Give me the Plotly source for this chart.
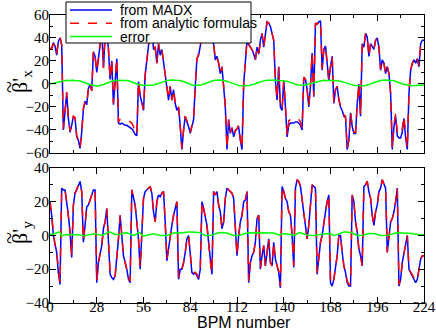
import plotly.graph_objects as go
from plotly.subplots import make_subplots

bpm = list(range(0, 225))

# beta_x' from MADX / analytic formulas / error
betax_madx = [30,31,36,33,25,37,40,34,-40,-20,
    -8,-30,-42,-36,-28,-30,-46,-49,-56,-42,
    -22,-15,-18,-4,0,-6,28,24,10,22,
    36,46,14,42,46,30,4,20,-18,6,
    22,-34,-35,-34,-35,-36,-36,-37,-38,-39,
    -41,-44,-45,2,-10,-16,-23,8,22,30,
    46,48,30,32,18,35,25,30,19,6,
    -5,-14,-2,-14,-5,-17,-23,-20,-37,-57,
    -40,-28,-33,-37,-43,-37,-31,-2,22,25,
    35,41,38,42,36,40,38,36,35,21,
    24,18,9,15,0,-20,-57,-31,-43,-38,
    -46,-41,-39,-37,-49,-57,0,24,38,34,
    32,30,26,21,32,26,38,44,32,41,
    54,53,50,44,38,3,-14,15,-20,-23,
    3,-20,-46,-36,-34,-34,-34,-33,-33,-34,
    -36,-40,6,4,-5,-20,-2,27,-11,53,
    52,54,55,12,30,33,18,3,15,24,
    -17,-5,-2,-14,-20,-23,-28,-29,-57,-49,
    -25,-37,-43,-43,-17,0,-28,35,32,44,
    41,24,35,32,30,38,40,32,12,21,
    18,9,15,9,-8,-57,-37,-28,-45,-47,
    -47,-42,-30,-47,-57,-8,12,18,21,18,
    22,15,35,38,38]
betax_analytic = [31,31,35,33,26,37,41,34,-39,-20,
    -7,-30,-41,-36,-28,-29,-45,-49,-55,-42,
    -21,-15,-17,-4,1,-6,29,24,11,22,
    37,46,14,42,46,31,4,21,-17,6,
    22,-33,-31,-31,-31,-32,-32,-32,-33,-34,
    -37,-42,-44,2,-9,-16,-22,8,22,31,
    46,48,31,32,18,35,26,30,19,6,
    -4,-13,-2,-14,-5,-16,-22,-20,-36,-56,
    -40,-28,-32,-36,-42,-37,-30,-2,22,26,
    35,41,38,42,37,40,38,36,35,22,
    24,18,9,15,1,-19,-56,-31,-42,-38,
    -45,-40,-39,-36,-48,-56,1,24,38,35,
    32,30,27,21,32,27,38,44,32,41,
    54,53,50,44,38,3,-13,15,-20,-22,
    3,-19,-45,-32,-31,-30,-30,-30,-30,-31,
    -33,-38,6,4,-5,-19,-2,27,-10,53,
    52,54,55,13,30,33,18,3,15,24,
    -16,-5,-2,-13,-19,-22,-27,-28,-56,-48,
    -25,-36,-42,-42,-17,0,-27,35,32,44,
    41,24,35,32,30,38,40,32,13,21,
    18,9,15,9,-8,-56,-36,-26,-42,-44,
    -44,-39,-28,-44,-56,-7,12,18,21,18,
    22,16,35,38,38]
betax_error = [0,0.3,0.6,1.0,1.4,1.8,2.2,2.6,2.8,3.0,
    3.2,3.0,3.3,3.1,3.3,3.0,3.1,2.8,2.6,2.2,
    1.8,1.2,0.6,0.0,-0.6,-1.0,-1.4,-1.6,-1.7,-1.6,
    -1.4,-1.0,-0.4,0.2,0.8,1.4,2.0,2.4,2.8,3.0,
    3.2,3.0,3.3,3.1,3.2,3.0,3.1,2.8,2.4,1.8,
    1.2,0.6,0.0,-0.5,-0.9,-1.2,-1.3,-1.2,-1.3,-1.1,
    -1.2,-1.0,-0.8,-0.6,-0.2,0.4,1.0,1.6,2.2,2.6,
    3.0,3.2,3.4,3.2,3.5,3.3,3.4,3.2,3.0,2.6,
    2.0,1.4,0.6,0.0,-0.6,-1.0,-1.3,-1.4,-1.2,-1.4,
    -1.0,-0.6,0.0,0.6,1.2,1.8,2.4,2.8,3.0,3.2,
    3.4,3.2,3.4,3.3,3.1,2.8,2.4,1.8,1.2,0.6,
    0.0,-0.5,-1.0,-1.3,-1.5,-1.6,-1.5,-1.6,-1.5,-1.4,
    -1.1,-0.8,-0.4,0.2,0.8,1.4,2.0,2.5,2.9,3.1,
    3.3,3.1,3.4,3.2,3.4,3.3,3.2,3.1,3.0,3.2,
    3.0,2.8,2.4,1.8,1.2,0.6,0.2,-0.2,-0.6,-0.8,
    -1.0,-0.9,-1.0,-0.8,-0.6,-0.3,0.2,0.6,1.0,1.4,
    1.8,2.2,2.6,3.0,3.2,3.0,3.3,3.1,3.2,3.0,
    3.2,2.9,3.1,2.8,2.6,2.2,1.8,1.2,0.6,0.0,
    -0.4,-0.8,-1.2,-1.4,-1.5,-1.6,-1.5,-1.6,-1.5,-1.3,
    -1.0,-0.6,0.0,0.6,1.2,1.8,2.4,2.8,3.0,3.2,
    3.4,3.2,3.4,3.1,3.3,3.0,2.8,2.4,1.8,1.2,
    0.6,0.0,-0.4,-0.8,-1.1,-1.3,-1.4,-1.5,-1.4,-1.5,
    -1.3,-1.4,-1.2,-1.0,-0.9]

# beta_y'
betay_madx = [20,12,0,-6,-10,-22,-29,28,27,27,
    20,12,2,-13,18,25,27,30,32,26,
    -4,6,17,18,21,25,27,27,-28,-16,
    -10,-6,4,8,16,-2,-23,-25,-26,-24,
    -14,-2,12,0,-12,-16,-20,-26,-28,27,
    22,18,8,-2,-20,4,22,26,27,28,
    29,25,14,8,20,24,23,25,26,8,
    -15,-8,0,6,12,16,20,-26,-20,-20,
    -16,-10,-2,0,-12,-22,-23,-22,-24,-26,
    -20,20,16,10,6,-4,-16,-23,26,24,
    26,18,14,4,8,22,28,27,26,25,
    22,4,-12,0,8,12,20,21,26,-28,
    -16,-12,-10,-4,10,12,-20,-12,-6,-18,
    -10,-2,-16,-18,-4,-14,-18,-22,-31,29,
    26,22,20,14,12,0,-19,28,33,32,
    29,22,12,8,-2,6,18,30,29,28,
    -23,-12,-4,0,8,14,20,24,-28,-30,
    -26,-20,-12,0,0,-10,-18,-22,-28,-30,
    -30,24,20,8,2,-8,-12,-18,29,30,
    32,26,22,12,6,14,18,26,28,33,
    30,28,-10,0,8,10,14,20,28,-30,
    -26,-16,-10,-4,0,-20,-22,-24,-26,-28,
    -26,-20,-14,-12,-12]
betay_analytic = [20,12,1,-6,-10,-21,-28,27,27,27,
    20,12,2,-12,18,25,27,30,31,26,
    -3,6,17,18,21,25,27,27,-27,-16,
    -10,-6,4,8,16,-2,-22,-24,-25,-24,
    -14,-2,12,0,-12,-16,-20,-25,-27,27,
    22,18,8,-2,-19,4,22,26,27,28,
    29,25,14,8,20,24,23,25,26,8,
    -14,-8,0,6,12,16,20,-25,-20,-20,
    -16,-10,-2,0,-12,-21,-22,-22,-23,-25,
    -20,20,16,10,6,-4,-16,-22,26,24,
    26,18,14,4,8,22,28,27,26,25,
    22,4,-12,0,8,12,20,21,26,-27,
    -16,-12,-10,-4,10,12,-19,-12,-6,-18,
    -10,-2,-16,-18,-4,-14,-18,-21,-30,29,
    26,22,20,14,12,0,-18,28,33,32,
    29,22,12,8,-2,6,18,30,29,28,
    -22,-12,-4,0,8,14,20,24,-27,-29,
    -26,-20,-12,0,0,-10,-18,-22,-27,-29,
    -29,24,20,8,2,-8,-12,-18,29,30,
    32,26,22,12,6,14,18,26,28,33,
    30,28,-10,0,8,10,14,20,28,-29,
    -26,-16,-10,-4,0,-20,-22,-24,-25,-27,
    -26,-20,-14,-12,-12]
betay_error = [0.6,0.6,0.8,1.2,1.8,2.0,1.8,-0.4,0.2,0.6,
    0.6,0.4,0.6,0.8,0.6,0.4,0.6,0.4,0.2,0.0,
    0.0,-0.2,0.2,0.4,0.6,0.8,1.0,1.0,0.8,0.4,
    0.0,0.0,0.4,1.0,1.6,2.0,2.0,1.4,0.8,0.6,
    0.6,0.4,0.6,1.0,1.4,1.6,1.6,1.2,0.6,0.0,
    0.0,0.4,1.0,1.6,1.6,0.2,-0.4,0.0,0.2,0.4,
    0.6,1.0,1.0,0.8,0.4,0.2,0.0,0.0,0.2,0.0,
    0.0,0.2,0.6,1.0,1.4,1.6,1.6,1.6,1.4,1.6,
    1.8,2.0,2.0,2.0,2.0,2.0,2.0,1.8,2.0,1.8,
    1.4,0.8,0.2,0.0,0.0,0.0,0.0,0.2,0.6,1.0,
    1.4,1.6,1.6,1.6,1.6,1.6,1.4,1.0,0.6,0.2,
    0.0,0.0,0.0,0.0,0.2,0.6,1.0,1.2,1.4,1.6,
    1.6,1.6,1.6,1.6,1.6,1.6,1.6,1.6,1.6,1.6,
    1.6,1.6,1.6,1.6,1.4,1.0,0.6,0.4,0.4,1.0,
    1.0,1.0,1.0,0.8,0.6,0.4,0.0,0.4,1.0,1.6,
    1.6,1.4,1.0,0.6,0.2,0.0,0.0,0.0,0.0,0.0,
    0.2,0.4,0.6,0.8,1.0,1.2,1.2,1.2,1.0,0.6,
    0.0,0.2,0.6,1.0,1.4,1.8,2.0,2.0,2.0,2.0,
    2.0,1.6,1.0,0.4,0.0,0.0,0.0,0.0,0.2,0.6,
    1.0,1.2,1.2,1.2,1.2,1.0,0.6,0.2,0.0,0.0,
    0.0,0.0,0.0,0.2,0.6,1.0,1.2,1.4,1.6,1.6,
    1.6,1.6,1.6,1.6,1.6,1.6,1.6,1.2,0.8,0.6,
    0.4,0.4,0.4,0.4,0.4]

legend_names = ["from MADX", "from analytic formulas", "error"]
colors = ["#0000ff", "#ff0000", "#00ff00"]
dashes = ["solid", "dash", "solid"]

fig = make_subplots(rows=2, cols=1, shared_xaxes=True)

top_series = [betax_madx, betax_analytic, betax_error]
bottom_series = [betay_madx, betay_analytic, betay_error]
for name, c, d, ys in zip(legend_names, colors, dashes, top_series):
    fig.add_trace(go.Scatter(x=bpm, y=ys, mode="lines", name=name, showlegend=False,
                             line=dict(color=c, width=1.5, dash=d)), row=1, col=1)
for name, c, d, ys in zip(legend_names, colors, dashes, bottom_series):
    fig.add_trace(go.Scatter(x=bpm, y=ys, mode="lines", name=name, showlegend=False,
                             line=dict(color=c, width=1.5, dash=d)), row=2, col=1)

tickfont = dict(family="Liberation Serif", size=15, color="black")
axis_common = dict(showline=True, linecolor="black", linewidth=1.2, mirror="allticks",
                   ticks="inside", ticklen=6, tickcolor="black", showgrid=False,
                   zeroline=False, tickfont=tickfont, automargin=False,
                   ticklabeloverflow="allow")

fig.update_xaxes(range=[0, 224], tick0=0, dtick=28, ticklabelstandoff=-10,
                 minor=dict(dtick=14, ticks="inside", ticklen=3, tickcolor="black"),
                 **axis_common)
fig.update_xaxes(showticklabels=False, row=1, col=1)

fig.update_yaxes(minor=dict(dtick=10, ticks="inside", ticklen=3, tickcolor="black"),
                 ticklabelstandoff=-3, **axis_common)
fig.update_yaxes(range=[-60, 60], dtick=20, domain=[0.521, 1.0], row=1, col=1)
fig.update_yaxes(range=[-40, 40], dtick=20, domain=[0.0, 0.469], row=2, col=1)

# helpers: window pixels -> paper coords
W, H, L, B = 374.0, 288.0, 50.0, 303.0
def px(x):
    return (x - L) / W
def py(y):
    return (B - y) / H

# axis titles
sans = dict(family="Liberation Sans", size=16, color="black")
serif = dict(family="Liberation Serif", size=22, color="black")
fig.add_annotation(xref="paper", yref="paper", x=px(244), y=py(322), text="BPM number",
                   showarrow=False, font=sans, xanchor="center", yanchor="middle")
for text, yc in [("β'<sub>x</sub>", 82), ("β'<sub>y</sub>", 233)]:
    fig.add_annotation(xref="paper", yref="paper", x=px(21), y=py(yc), text=text,
                       showarrow=False, font=serif, textangle=-90,
                       xanchor="center", yanchor="middle")
    fig.add_annotation(xref="paper", yref="paper", x=px(8), y=py(yc + 5), text="~",
                       showarrow=False, font=dict(family="Liberation Serif", size=22, color="black"),
                       textangle=-90, xanchor="center", yanchor="middle")

# legend box drawn by hand (tighter row spacing than plotly's legend)
fig.add_shape(type="rect", xref="paper", yref="paper", layer="above",
              x0=px(66), x1=px(251), y0=py(43), y1=py(2),
              fillcolor="white", line=dict(color="black", width=1))
for i, (name, c, d) in enumerate(zip(legend_names, colors, dashes)):
    yy = 10 + i * 13.3
    fig.add_shape(type="line", xref="paper", yref="paper", layer="above",
                  x0=px(70), x1=px(112), y0=py(yy), y1=py(yy),
                  line=dict(color=c, width=1.5, dash=d))
    fig.add_annotation(xref="paper", yref="paper", x=px(118), y=py(yy),
                       xanchor="left", yanchor="middle", showarrow=False, text=name,
                       font=dict(family="Liberation Sans", size=14, color="black"))

fig.update_layout(
    width=436, height=334,
    margin=dict(l=50, r=12, t=15, b=31, autoexpand=False),
    plot_bgcolor="white", paper_bgcolor="white",
    showlegend=False,
)

# drop the default 8px body margin so the figure sits at the window corner
fig.write_html("out.html", config={"displayModeBar": False},
               post_script="document.body.style.margin='0px';")
